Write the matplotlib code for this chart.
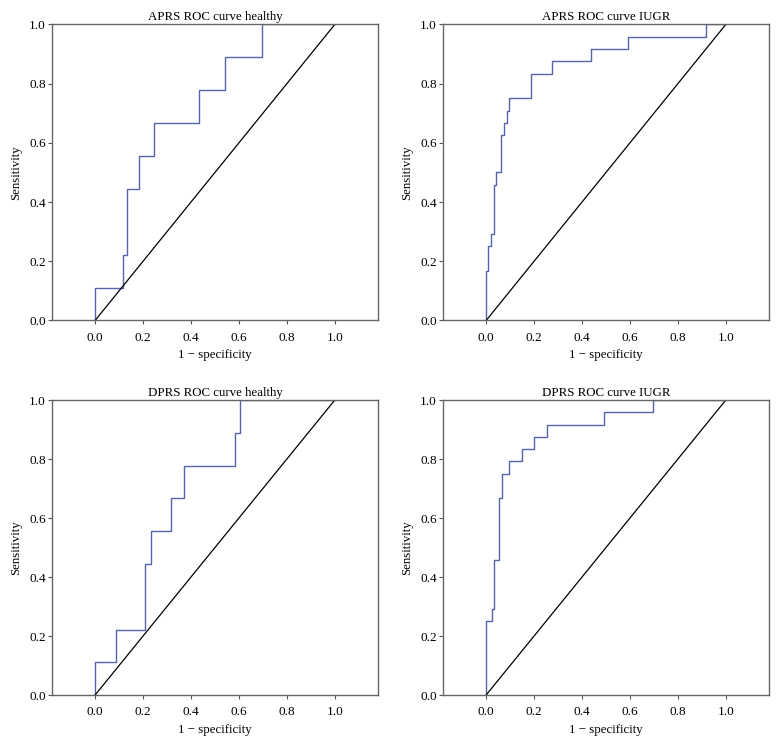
import matplotlib
matplotlib.use("Agg")
import matplotlib.pyplot as plt

plt.rcParams["font.family"] = ["Liberation Serif", "DejaVu Serif"]

# ROC step points (1 - specificity, sensitivity)
aprs_healthy_fpr = [0, 0, 0.116, 0.135, 0.182, 0.244, 0.433, 0.540, 0.695, 1.0]
aprs_healthy_tpr = [0, 0.111, 0.222, 0.444, 0.556, 0.667, 0.778, 0.889, 1.0, 1.0]

aprs_iugr_fpr = [0, 0, 0.008, 0.021, 0.032, 0.042, 0.064, 0.075, 0.085, 0.096,
                 0.189, 0.275, 0.438, 0.593, 0.917, 1.0]
aprs_iugr_tpr = [0, 0.167, 0.25, 0.292, 0.458, 0.5, 0.625, 0.667, 0.708, 0.75,
                 0.833, 0.875, 0.917, 0.958, 1.0, 1.0]

dprs_healthy_fpr = [0, 0, 0.088, 0.207, 0.233, 0.316, 0.372, 0.585, 0.605, 1.0]
dprs_healthy_tpr = [0, 0.111, 0.222, 0.444, 0.556, 0.667, 0.778, 0.889, 1.0, 1.0]

dprs_iugr_fpr = [0, 0, 0.024, 0.033, 0.054, 0.065, 0.097, 0.149, 0.200, 0.255,
                 0.491, 0.698, 1.0]
dprs_iugr_tpr = [0, 0.25, 0.292, 0.458, 0.667, 0.75, 0.792, 0.833, 0.875, 0.917,
                 0.958, 1.0, 1.0]

titles = ["APRS ROC curve healthy", "APRS ROC curve IUGR",
          "DPRS ROC curve healthy", "DPRS ROC curve IUGR"]
curves = [(aprs_healthy_fpr, aprs_healthy_tpr), (aprs_iugr_fpr, aprs_iugr_tpr),
          (dprs_healthy_fpr, dprs_healthy_tpr), (dprs_iugr_fpr, dprs_iugr_tpr)]
ticks = [0.0, 0.2, 0.4, 0.6, 0.8, 1.0]

fig = plt.figure(figsize=(7.78, 7.47), dpi=100)

positions = [
    [0.0668, 0.5710, 0.4190, 0.3963],
    [0.5694, 0.5710, 0.4190, 0.3963],
    [0.0668, 0.0696, 0.4190, 0.3949],
    [0.5694, 0.0696, 0.4190, 0.3949],
]

for pos, title, (fpr, tpr) in zip(positions, titles, curves):
    ax = fig.add_axes(pos)
    ax.step(fpr, tpr, where="post", color="#5565ad", lw=1.0)
    ax.plot([0, 1], [0, 1], color="black", lw=0.9)
    ax.set_xlim(-0.18, 1.18)
    ax.set_ylim(0, 1)
    ax.set_xticks(ticks)
    ax.set_yticks(ticks)
    ax.set_xticklabels([f"{t:.1f}" for t in ticks])
    ax.set_yticklabels([f"{t:.1f}" for t in ticks])
    ax.tick_params(direction="out", length=3, width=0.8, labelsize=9.5,
                   color="#555555")
    ax.tick_params(axis="x", pad=5)
    ax.tick_params(axis="y", pad=1.5)
    for s in ax.spines.values():
        s.set_color("#666666")
        s.set_linewidth(1.0)
    ax.set_title(title, fontsize=9.3, pad=3)
    ax.set_xlabel("1 \u2212 specificity", fontsize=9.3, labelpad=4)
    ax.set_ylabel("Sensitivity", fontsize=9.3, labelpad=5)

fig.savefig("out.png", dpi=100)
